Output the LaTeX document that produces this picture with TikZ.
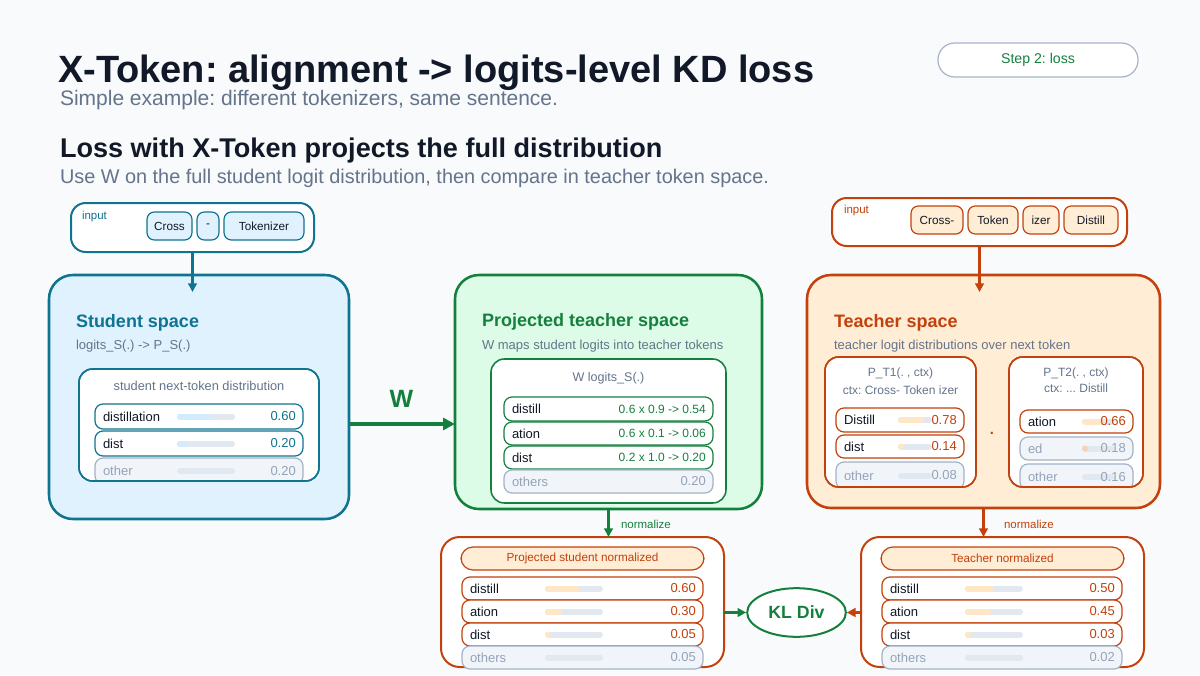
\documentclass[tikz,border=0pt]{standalone}
\usepackage{fontspec}
\setmainfont{Liberation Sans}
\usetikzlibrary{arrows.meta,fit,shapes.geometric}
\frenchspacing

\definecolor{bg}{HTML}{F8FAFC}
\definecolor{dark}{HTML}{111827}
\definecolor{slate}{HTML}{64748B}
\definecolor{tealc}{HTML}{0E7490}
\definecolor{tealfill}{HTML}{E0F2FE}
\definecolor{tealbar}{HTML}{D2ECFB}
\definecolor{greenc}{HTML}{15803D}
\definecolor{greenfill}{HTML}{DCFCE7}
\definecolor{orangec}{HTML}{C2410C}
\definecolor{orangefill}{HTML}{FFEDD5}
\definecolor{orangebar}{HTML}{FEE6C6}
\definecolor{grayfill}{HTML}{F1F5F9}
\definecolor{grayline}{HTML}{A3B2C7}
\definecolor{graytext}{HTML}{94A3B8}
\definecolor{track}{HTML}{E2E8F0}
\definecolor{pill}{HTML}{A7B4C8}

\newcommand{\fs}[1]{\fontsize{#1}{#1}\selectfont}

\tikzset{
  txt/.style={inner sep=0pt, outer sep=0pt},
  bigbox/.style={draw, line width=1.9pt, rounded corners=18pt, inner sep=0pt, outer sep=0pt},
  innerbox/.style={draw, fill=white, line width=1.15pt, rounded corners=10pt, inner sep=0pt, outer sep=0pt},
  inbox/.style={draw, fill=white, line width=1.5pt, rounded corners=11pt, inner sep=0pt, outer sep=0pt},
  tokbox/.style={draw, line width=0.9pt, rounded corners=5.5pt, inner sep=0pt},
  toklab/.style={txt, font=\fs{8.8}, text=dark},
  rowbase/.style={draw, line width=0.9pt, rounded corners=6pt, inner sep=0pt, outer sep=0pt, fill=white},
  rowT/.style={rowbase, draw=tealc},
  rowG/.style={rowbase, draw=greenc},
  rowO/.style={rowbase, draw=orangec},
  rowX/.style={rowbase, draw=grayline, fill=grayfill},
  labT/.style={txt, text=dark, font=\fs{9.75}},
  labG/.style={txt, text=dark, font=\fs{9.75}},
  labO/.style={txt, text=dark, font=\fs{9.75}},
  labX/.style={txt, text=graytext, font=\fs{9.75}},
  valT/.style={txt, text=tealc, font=\fs{9.75}},
  valG/.style={txt, text=greenc, font=\fs{9}},
  valO/.style={txt, text=orangec, font=\fs{9.75}},
  valX/.style={txt, text=graytext, font=\fs{9.75}},
  trackline/.style={draw=track, line width=4.5pt, line cap=round},
  barfill/.style={draw=\barcol, line width=4.5pt, line cap=round},
  arr/.style={line width=1.9pt, -{Triangle[length=6.5pt,width=6.5pt]}},
  sectitle/.style={txt, font=\bfseries\fs{13.5}, anchor=west},
  secsub/.style={txt, font=\fs{9.75}, text=slate, anchor=west},
  boxtitle/.style={txt, font=\fs{9.4}, text=slate},
  header/.style={draw=orangec, fill=orangefill, line width=0.9pt, rounded corners=9pt, inner sep=0pt},
  headlab/.style={txt, text=orangec, font=\fs{8.8}},
}

% #1 name, #2 kind, #3 x1, #4 x2, #5 y1, #6 y2, #7 label, #8 value, #9 bar fraction (empty = none)
\newcommand{\drow}[9]{%
  \node[row#2, fit={(#3,#5) (#4,#6)}] (#1) {};
  \ifx\relax#9\relax\else
    \draw[trackline] ({\bx+3},{(#5+#6)/2}) -- ({\bx+\blen-3},{(#5+#6)/2});
    \ifdim #9pt>0pt
      \draw[barfill] ({\bx+3},{(#5+#6)/2}) -- ({\bx+3+max(#9*\blen-6,0)},{(#5+#6)/2});
    \fi
  \fi
  \node[lab#2, anchor=west] (#1-l) at ([xshift=6pt]#1.west) {#7};
  \node[val#2, anchor=east] (#1-v) at ([xshift=-5.4pt]#1.east) {#8};
}

\begin{document}
\begin{tikzpicture}[x=0.75pt,y=-0.75pt]
\fill[bg] (0,0) rectangle (1200,675);
\useasboundingbox (0,0) rectangle (1200,675);

% ---------- titles ----------
\node[txt, anchor=base west, text=dark, font=\bfseries\fs{28.5}] (title) at (58,82) {X-Token: alignment -> logits-level KD loss};
\node[txt, anchor=base west, text=slate, font=\fs{15.75}] (subtitle) at (60,105) {Simple example: different tokenizers, same sentence.};
\node[txt, anchor=base west, text=dark, font=\bfseries\fs{20.3}] (h2) at (60,157) {Loss with X-Token projects the full distribution};
\node[txt, anchor=base west, text=slate, font=\fs{14.9}] (h2sub) at (60,183) {Use W on the full student logit distribution, then compare in teacher token space.};

\node[draw=pill, fill=white, line width=0.9pt, rounded corners=12.5pt, inner sep=0pt, fit={(938,43) (1138,77)},
  label={[txt, text=greenc, font=\fs{10.6}]center:Step 2: loss}] (step) {};

% ---------- student input ----------
\node[inbox, draw=tealc, fit={(71,203) (314,252)}] (sin) {};
\node[txt, anchor=west, text=tealc, font=\fs{8.6}] (sinlab) at (82,217) {input};
\node[tokbox, draw=tealc, fill=tealfill, fit={(147,212) (192,240)}, label={[toklab]center:Cross}] (st1) {};
\node[tokbox, draw=tealc, fill=tealfill, fit={(197,212) (219,240)}, label={[toklab]center:-}] (st2) {};
\node[tokbox, draw=tealc, fill=tealfill, fit={(224,212) (304,240)}, label={[toklab]center:Tokenizer}] (st3) {};

% ---------- student space ----------
\node[bigbox, draw=tealc, fill=tealfill, fit={(49,275) (349,519)}] (S) {};
\node[sectitle, text=tealc] (Stitle) at (76,323) {Student space};
\node[secsub] (Ssub) at (76,346) {logits\_S(.) -> P\_S(.)};
\node[innerbox, draw=tealc, fit={(79,369) (319,481)}] (Si) {};
\node[boxtitle, font=\fs{9.6}] (Sititle) at (199,386) {student next-token distribution};
\def\bx{177}\def\blen{58}\def\barcol{tealbar}
\begin{scope}
\clip[rounded corners=10pt] (79,369) rectangle (319,481);
\drow{s1}{T}{95}{303}{404}{429}{distillation}{0.60}{0.6}
\drow{s2}{T}{95}{303}{431}{456}{dist}{0.20}{0.19}
\drow{s3}{X}{95}{303}{458}{484}{other}{0.20}{0}
\end{scope}
\draw[line width=1.15pt, draw=tealc, rounded corners=10pt] (Si.south west) rectangle (Si.north east);

\coordinate (sarr) at (192.5,292);
\draw[arr, draw=tealc, fill=tealc] (sin.south) -- (sarr);

% ---------- projected teacher space ----------
\node[bigbox, draw=greenc, fill=greenfill, fit={(455,275) (762,509)}] (P) {};
\node[sectitle, text=greenc] (Ptitle) at (482,322) {Projected teacher space};
\node[secsub] (Psub) at (482,346) {W maps student logits into teacher tokens};
\node[innerbox, draw=greenc, fit={(491,359) (726,503)}] (Pi) {};
\node[boxtitle] (Pititle) at (608.5,378) {W logits\_S(.)};
\drow{p1}{G}{504}{713}{397}{421}{distill}{0.6 x 0.9 -> 0.54}{}
\drow{p2}{G}{504}{713}{422}{445}{ation}{0.6 x 0.1 -> 0.06}{}
\drow{p3}{G}{504}{713}{446}{469}{dist}{0.2 x 1.0 -> 0.20}{}
\drow{p4}{X}{504}{713}{470}{493}{others}{0.20}{}

% W arrow
\coordinate (wy) at (400,424);
\draw[line width=3pt, draw=greenc, -{Triangle[length=9pt,width=9pt]}] (S.east |- wy) -- (P.west |- wy);
\node[txt, anchor=base, text=greenc, font=\bfseries\fs{18.75}] (Wlab) at (401.5,407) {W};

% ---------- teacher input ----------
\node[inbox, draw=orangec, fit={(832,198) (1127,246)}] (tin) {};
\node[txt, anchor=west, text=orangec, font=\fs{8.6}] (tinlab) at (844,211) {input};
\node[tokbox, draw=orangec, fill=orangefill, fit={(911,206) (963,234)}, label={[toklab]center:Cross-}] (tt1) {};
\node[tokbox, draw=orangec, fill=orangefill, fit={(968,206) (1018,234)}, label={[toklab]center:Token}] (tt2) {};
\node[tokbox, draw=orangec, fill=orangefill, fit={(1023,206) (1059,234)}, label={[toklab]center:izer}] (tt3) {};
\node[tokbox, draw=orangec, fill=orangefill, fit={(1064,206) (1118,234)}, label={[toklab]center:Distill}] (tt4) {};

% ---------- teacher space ----------
\node[bigbox, draw=orangec, fill=orangefill, fit={(807,275) (1160,508)}] (T) {};
\node[sectitle, text=orangec] (Ttitle) at (834,323) {Teacher space};
\node[secsub] (Tsub) at (834,346) {teacher logit distributions over next token};

\node[innerbox, draw=orangec, fit={(825,357) (976,487)}] (T1) {};
\node[boxtitle, font=\fs{9}] (T1a) at (900.5,373) {P\_T1(. , ctx)};
\node[boxtitle, font=\fs{9}] (T1b) at (900.5,390) {ctx: Cross- Token izer};
\def\bx{898}\def\blen{34}\def\barcol{orangebar}
\begin{scope}
\clip[rounded corners=10pt] (825,357) rectangle (976,487);
\drow{a1}{O}{836}{964}{408}{432}{Distill}{0.78}{0.78}
\drow{a2}{O}{836}{964}{435}{458}{dist}{0.14}{0.14}
\drow{a3}{X}{836}{964}{462}{489}{other}{0.08}{0}
\end{scope}
\draw[line width=1.15pt, draw=orangec, rounded corners=10pt] (T1.south west) rectangle (T1.north east);

\node[txt, text=orangec, font=\bfseries\fs{11}, anchor=base] (dot) at (992,434) {.};

\node[innerbox, draw=orangec, fit={(1009,357) (1143,487)}] (T2) {};
\node[boxtitle, font=\fs{9}] (T2a) at (1076,373) {P\_T2(. , ctx)};
\node[boxtitle, font=\fs{9}] (T2b) at (1076,388) {ctx: ... Distill};
\def\bx{1082}\def\blen{32}\def\barcol{orangebar}
\begin{scope}
\clip[rounded corners=10pt] (1009,357) rectangle (1143,487);
\drow{b1}{O}{1020}{1133}{410}{433}{ation}{0.66}{0.66}
\def\barcol{orangebar!70!orangec!60}
\drow{b2}{X}{1020}{1133}{437}{460}{ed}{0.18}{0.18}
\drow{b3}{X}{1020}{1133}{464}{490}{other}{0.16}{0}
\end{scope}
\draw[line width=1.15pt, draw=orangec, rounded corners=10pt] (T2.south west) rectangle (T2.north east);

\coordinate (tarr) at (979.5,292);
\draw[arr, draw=orangec, fill=orangec] (tin.south) -- (tarr);

% ---------- normalized boxes ----------
\node[innerbox, draw=orangec, line width=1.5pt, rounded corners=14pt, fit={(441,537) (724,667)}] (NS) {};
\node[header, fit={(461,547) (704,570)}, label={[headlab]center:Projected student normalized}] (NSh) {};
\def\bx{545}\def\blen{58}\def\barcol{orangebar}
\drow{n1}{O}{462}{703}{577}{600}{distill}{0.60}{0.6}
\drow{n2}{O}{462}{703}{600}{623}{ation}{0.30}{0.3}
\drow{n3}{O}{462}{703}{623}{646}{dist}{0.05}{0.05}
\drow{n4}{X}{462}{703}{646}{669}{others}{0.05}{0}

\node[innerbox, draw=orangec, line width=1.5pt, rounded corners=14pt, fit={(861,537) (1144,667)}] (NT) {};
\node[header, fit={(881,547) (1124,570)}, label={[headlab]center:Teacher normalized}] (NTh) {};
\def\bx{965}\def\blen{58}\def\barcol{orangebar}
\drow{m1}{O}{882}{1122}{577}{600}{distill}{0.50}{0.5}
\drow{m2}{O}{882}{1122}{600}{623}{ation}{0.45}{0.45}
\drow{m3}{O}{882}{1122}{623}{646}{dist}{0.03}{0.03}
\drow{m4}{X}{882}{1122}{646}{669}{others}{0.02}{0}

% normalize arrows
\draw[arr, draw=greenc, fill=greenc] (P.south) -- (P.south |- NS.north);
\node[txt, anchor=west, text=greenc, font=\fs{8.6}] (normG) at (621,524) {normalize};
\draw[arr, draw=orangec, fill=orangec] (T.south) -- (T.south |- NT.north);
\node[txt, anchor=west, text=orangec, font=\fs{8.6}] (normO) at (1004,524) {normalize};

% ---------- KL ----------
\node[ellipse, draw=greenc, fill=white, line width=1.5pt, minimum width=74pt, minimum height=36.5pt, inner sep=0pt, text=greenc, font=\bfseries\fs{13.3}] (KL) at (796.5,612.5) {KL Div};
\draw[arr, draw=greenc, fill=greenc] (NS.east |- KL) -- (KL.west);
\draw[arr, draw=orangec, fill=orangec] (NT.west |- KL) -- (KL.east);

\end{tikzpicture}
\end{document}
